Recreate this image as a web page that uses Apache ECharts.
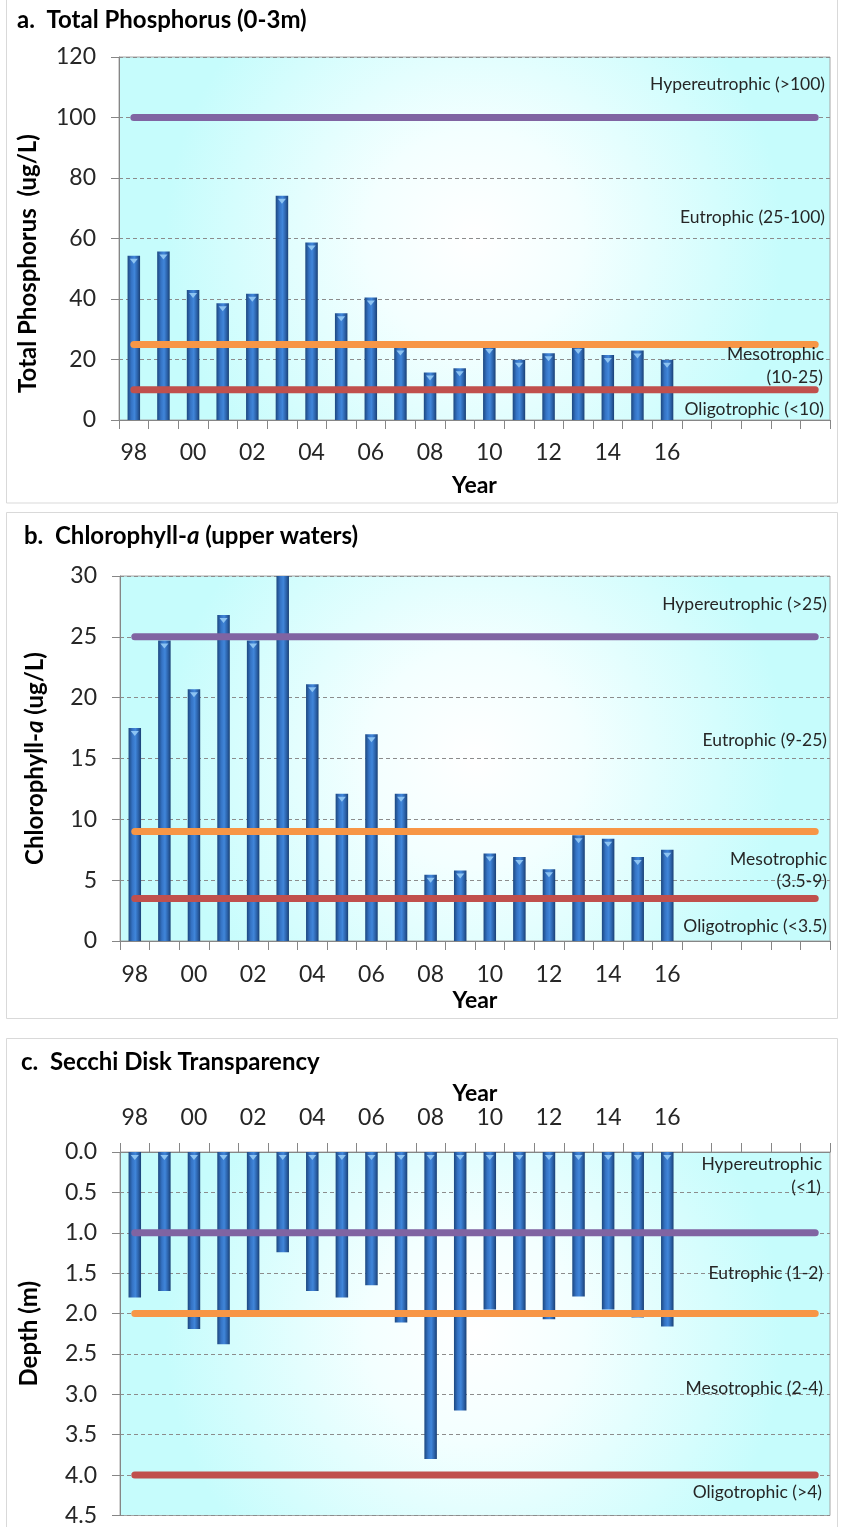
<!DOCTYPE html>
<html><head><meta charset="utf-8">
<script src="https://cdn.jsdelivr.net/npm/echarts@6/dist/echarts.min.js"></script>
<style>html,body{margin:0;padding:0;background:#fff}#c{width:841px;height:1527px}</style>
</head><body><div id="c"></div>
<script>
// ---- data ----
const years = ['98','99','00','01','02','03','04','05','06','07','08','09','10','11','12','13','14','15','16','17','18','19','20','21'];
const tickLabels = ['98','00','02','04','06','08','10','12','14','16'];
const phosphorus = [54.3,55.7,43.0,38.6,41.7,74.1,58.7,35.3,40.5,24.0,15.7,17.1,24.5,19.9,22.1,24.5,21.5,23.0,19.9];
const chlorophyll = [17.5,24.7,20.7,26.8,24.7,31,21.1,12.1,17.0,12.1,5.45,5.8,7.2,6.9,5.9,8.7,8.4,6.9,7.5];
const secchi = [1.80,1.72,2.19,2.38,2.02,1.24,1.72,1.80,1.65,2.11,3.80,3.20,1.95,2.03,2.07,1.79,1.95,2.05,2.16];
const tpThresholds = [100, 25, 10];
const chlThresholds = [25, 9, 3.5];
const secchiThresholds = [1, 2, 4];
const tpZoneLabels = ['Hypereutrophic (>100)','Eutrophic (25-100)','Mesotrophic','(10-25)','Oligotrophic (<10)'];
const chlZoneLabels = ['Hypereutrophic (>25)','Eutrophic (9-25)','Mesotrophic','(3.5-9)','Oligotrophic (<3.5)'];
const secchiZoneLabels = ['Hypereutrophic','(<1)','Eutrophic (1-2)','Mesotrophic (2-4)','Oligotrophic (>4)'];
const titles = ['a.  Total Phosphorus (0-3m)', 'b.  Chlorophyll-', 'a', ' (upper waters)', 'c.  Secchi Disk Transparency'];

// ---- style ----
const FONT = 'Lato, "Open Sans", sans-serif';
const thresholdColors = ['#8064a2', '#f79646', '#c0504d'];
const barColor = {type:'linear', x:0, y:0, x2:1, y2:0, colorStops:[
  {offset:0, color:'#1c477f'},{offset:0.3, color:'#3573c4'},{offset:0.55, color:'#4086da'},
  {offset:0.8, color:'#2b61a8'},{offset:1, color:'#1a4074'}]};
const bgColor = {type:'radial', x:0.5, y:0.5, r:0.85, colorStops:[
  {offset:0, color:'#ffffff'},{offset:0.35, color:'#f3ffff'},{offset:1, color:'#c6fcfc'}]};

const grids = [
  {left:119, right:11, top:57, height:363},
  {left:120, right:11, top:576, height:365},
  {left:120, right:11, top:1152, height:364}
];
grids.forEach(g => Object.assign(g, {show:true, backgroundColor:bgColor, borderColor:'#a6a6a6', borderWidth:1}));

function xAxis(i, pos, gap, margin) {
  return {
    type:'category', gridIndex:i, data:years, position:pos, boundaryGap:true,
    name:'Year', nameLocation:'middle', nameGap:gap,
    nameTextStyle:{fontFamily:FONT, fontWeight:'bold', fontSize:23, color:'#000'},
    axisLine:{show:true, lineStyle:{color:'#868686'}},
    axisTick:{show:true, interval:0, length:9, lineStyle:{color:'#868686'}},
    axisLabel:{interval:0, margin:margin, fontFamily:FONT, fontSize:23, color:'#262626',
      formatter: v => tickLabels.includes(v) ? v : ''},
    splitLine:{show:false}
  };
}
function yAxis(i, max, interval, name, dec, inverse, gap, pad) {
  return {
    type:'value', gridIndex:i, min:0, max:max, interval:interval, inverse:!!inverse,
    name:name, nameLocation:'middle', nameGap:gap,
    nameTextStyle:{fontFamily:FONT, fontWeight:'bold', fontSize:24, color:'#000', padding:pad||0,
      rich:{n:{fontFamily:FONT, fontWeight:'bold', fontSize:24, color:'#000'},
            i:{fontFamily:FONT, fontWeight:'bold', fontStyle:'italic', fontSize:24, color:'#000'}}},
    axisLine:{show:true, lineStyle:{color:'#868686'}},
    axisTick:{show:true, length:8, lineStyle:{color:'#868686'}},
    axisLabel:{margin:23, fontFamily:FONT, fontSize:23, color:'#262626',
      formatter: v => dec ? v.toFixed(1) : String(v)},
    splitLine:{show:true, lineStyle:{color:'#8c8c8c', type:[4,3], width:1}}
  };
}

const series = [];
[phosphorus, chlorophyll, secchi].forEach((vals, i) => {
  series.push({type:'bar', xAxisIndex:i, yAxisIndex:i, data:vals, barWidth:12.5, z:2,
    itemStyle:{color:barColor}, clip:true, silent:true});
  // small light bevel triangle at the visual top of each bar
  series.push({type:'pictorialBar', xAxisIndex:i, yAxisIndex:i, data:vals, z:2.5, silent:true,
    symbol:'triangle', symbolRotate: i === 2 ? 0 : 180, symbolSize:[8,5], clip:true,
    symbolPosition: i === 2 ? 'start' : 'end', symbolOffset:[0, 3],
    itemStyle:{color:'#8cc3f2'}});
});
[tpThresholds, chlThresholds, secchiThresholds].forEach((th, i) => {
  th.forEach((v, k) => {
    series.push({type:'line', xAxisIndex:i, yAxisIndex:i, z:3, symbol:'none', silent:true,
      data:[[years[0], v], [years[years.length-1], v]],
      lineStyle:{color:thresholdColors[k], width:7, cap:'round'}});
  });
});

function zoneText(text, x, y) {
  return {type:'text', x:x, y:y, z:10, style:{text:text, align:'right', verticalAlign:'middle',
    font:'17.5px ' + FONT, fill:'#262626'}};
}
const graphic = [
  {type:'rect', shape:{x:6.5, y:-1, width:831, height:504}, style:{fill:'none', stroke:'#d9d9d9', lineWidth:1}},
  {type:'rect', shape:{x:6.5, y:512.5, width:831, height:506}, style:{fill:'none', stroke:'#d9d9d9', lineWidth:1}},
  {type:'rect', shape:{x:6.5, y:1038.5, width:831, height:500}, style:{fill:'none', stroke:'#d9d9d9', lineWidth:1}},
  zoneText(tpZoneLabels[0], 825, 84), zoneText(tpZoneLabels[1], 825, 217),
  zoneText(tpZoneLabels[2], 824, 354), zoneText(tpZoneLabels[3], 823, 377), zoneText(tpZoneLabels[4], 824, 409),
  zoneText(chlZoneLabels[0], 827, 604), zoneText(chlZoneLabels[1], 827, 740),
  zoneText(chlZoneLabels[2], 827, 859), zoneText(chlZoneLabels[3], 827, 881), zoneText(chlZoneLabels[4], 827, 926),
  zoneText(secchiZoneLabels[0], 822, 1164), zoneText(secchiZoneLabels[1], 821, 1187),
  zoneText(secchiZoneLabels[2], 823, 1273), zoneText(secchiZoneLabels[3], 823, 1388), zoneText(secchiZoneLabels[4], 822, 1492)
];

const titleStyle = {fontFamily:FONT, fontWeight:'bold', fontSize:24, color:'#000'};
const option = {
  animation:false,
  backgroundColor:'#ffffff',
  title:[
    {text:titles[0], left:12, top:3, textStyle:titleStyle},
    {text:'{n|' + titles[1] + '}{i|' + titles[2] + '}{n|' + titles[3] + '}', left:19, top:519,
      textStyle:{rich:{n:titleStyle, i:Object.assign({}, titleStyle, {fontStyle:'italic'})}}},
    {text:titles[4], left:16, top:1045, textStyle:titleStyle}
  ],
  grid:grids,
  xAxis:[xAxis(0,'bottom',54,21), xAxis(1,'bottom',48,22), xAxis(2,'top',47,23)],
  yAxis:[
    yAxis(0, 120, 20, 'Total Phosphorus  (ug/L)', false, false, 79, [0,50,0,0]),
    yAxis(1, 30, 5, '{n|Chlorophyll-}{i|a}{n| (ug/L)}', false, false, 73),
    yAxis(2, 4.5, 0.5, 'Depth (m)', true, true, 79)
  ],
  series:series,
  graphic:graphic
};
const chart = echarts.init(document.getElementById('c'), null, {renderer:'canvas'});
chart.setOption(option);
</script></body></html>
